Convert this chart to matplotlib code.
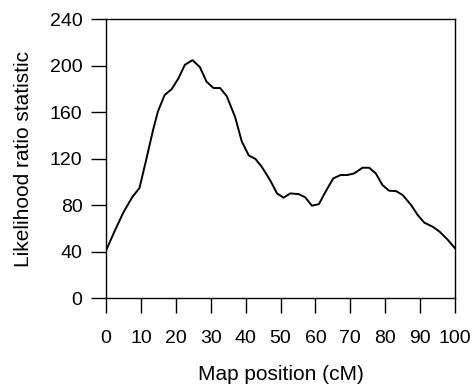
import numpy as np
import matplotlib.pyplot as plt

plt.rcParams['font.family'] = ['Liberation Sans', 'DejaVu Sans']

# Map position (cM) and likelihood ratio statistic
pos = [0, 2.5, 5, 7.5, 9.6, 11.5, 13.5, 14.9, 16.8, 18.8, 20.7, 22.6, 24.8,
       26.9, 28.8, 30.8, 32.7, 34.6, 37, 38.9, 40.9, 42.8, 44.6, 47, 49,
       50.9, 52.8, 55.2, 57.1, 59, 61, 62.9, 65.1, 67.2, 69.1, 71.1, 73.5,
       75.4, 77.3, 79.2, 81.1, 83.1, 85, 87.4, 89.3, 91.2, 93.6, 95.6, 98, 100]
lrs = [41, 58, 74, 87, 95, 119, 145, 161, 175, 180, 189, 201, 205,
       199, 186.5, 181, 181, 174, 156, 135, 123, 120, 113.3, 101.8, 90.3,
       86.6, 90.3, 89.7, 86.9, 79.7, 81.1, 91.7, 103.2, 106.1, 106.1, 107.5, 112.4,
       112.4, 107.5, 97.5, 92.6, 92.3, 88.9, 80.3, 71.7, 65.1, 61.6, 57.3, 50.1, 43]

fig = plt.figure(figsize=(4.74, 3.86), dpi=100)
ax = fig.add_axes([0.2236, 0.2272, 0.7364, 0.7223])
ax.plot(pos, lrs, color='black', lw=1.4)

ax.set_xlim(0, 100)
ax.set_ylim(0, 240)
ax.set_xticks(np.arange(0, 101, 10))
ax.set_yticks(np.arange(0, 241, 40))
ax.tick_params(direction='out', length=10.5, width=1, labelsize=14)
ax.tick_params(axis='x', pad=12)
ax.tick_params(axis='y', pad=6.5)
for s in ax.spines.values():
    s.set_linewidth(1)

ax.set_xlabel('Map position (cM)', fontsize=15, labelpad=13)
ax.set_ylabel('Likelihood ratio statistic', fontsize=15, labelpad=12)

fig.savefig('out.png', dpi=100)
